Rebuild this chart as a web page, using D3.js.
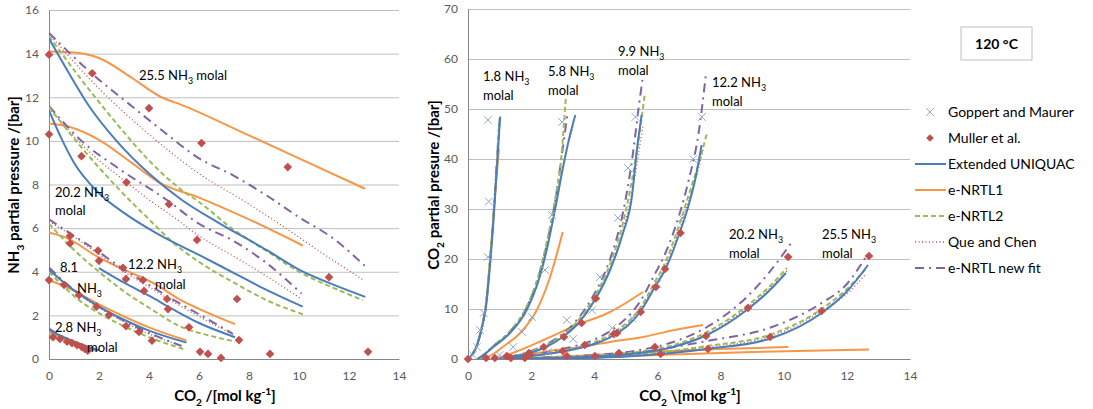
<!DOCTYPE html>
<html>
<head>
<meta charset="utf-8">
<script src="https://cdnjs.cloudflare.com/ajax/libs/d3/7.8.5/d3.min.js"></script>
<style>
body { margin: 0; background: #fff; }
svg text { font-family: Lato, "Open Sans", sans-serif; fill: #000; }
.tick text { fill: #595959; }
</style>
</head>
<body>
<svg id="chart" width="1093" height="409"></svg>
<script>
// ---------- data: left panel, NH3 partial pressure [bar] vs CO2 [mol/kg] ----------
var xTicks = [0, 2, 4, 6, 8, 10, 12, 14];
var leftYTicks = [0, 2, 4, 6, 8, 10, 12, 14, 16];
var rightYTicks = [0, 10, 20, 30, 40, 50, 60, 70];

// groups in each array: 25.5, 20.2, 12.2, 8.1, 2.8 molal
var leftUniquac = [
    [[0,14.7],[0.8,13.1],[1.6,11.6],[2.7,10.0],[4,8.5],[5.3,7.3],[6.7,6.3],[8.7,5.0],[10,4.1],[11.4,3.4],[12.65,2.85]],
    [[0,11.4],[0.5,10.1],[1,9.0],[2,7.6],[3,6.7],[4.4,5.7],[6,4.77],[7.4,3.94],[8.7,3.17],[10.15,2.4]],
    [[2,4.17],[3,3.5],[4,2.9],[5,2.25],[6,1.65],[7.44,1.0]],
    [[0,4.1],[0.6,3.5],[1.2,3.0],[2,2.4],[3,1.8],[4,1.3],[5.5,0.75]],
    [[0,1.35],[0.4,1.1],[0.8,0.9],[1.2,0.7],[1.7,0.5],[2.0,0.4]]
];
var leftNrtl1 = [
    [[0,14.1],[1,14.05],[2,13.8],[3.3,12.9],[4.5,12.0],[5.3,11.65],[8,10.25],[10,9.2],[12.65,7.8]],
    [[0,10.8],[0.8,10.65],[2,10.05],[3.3,9.0],[4.4,8.1],[6,7.4],[8,6.4],[10.15,5.2]],
    [[0,5.8],[0.7,5.55],[2,4.65],[3.1,4.05],[4.3,3.4],[5.2,2.75],[6,2.3],[7.44,1.6]],
    [[0,3.6],[0.6,3.35],[1.2,3.0],[2,2.5],[3,1.95],[4,1.45],[5.5,0.85]],
    [[0,1.2],[0.5,1.0],[1,0.8],[1.5,0.6],[1.9,0.45]]
];
var leftNrtl2 = [
    [[0,14.8],[1.3,12.8],[2.7,10.8],[4,9.1],[5.3,7.75],[6.0,7.2],[7.3,6.0],[8.7,4.95],[10,4.0],[11.4,3.25],[12.55,2.7]],
    [[0,11.55],[1.3,9.7],[2.7,7.9],[4,6.4],[5,5.3],[6,4.45],[7.4,3.5],[8.7,2.7],[10.15,2.05]],
    [[0,6.2],[1,5.0],[2,4.0],[3,3.1],[4,2.35],[5.24,1.5],[6.5,1.05],[7.44,0.8]],
    [[0,4.0],[0.6,3.3],[1.2,2.7],[2,2.1],[3,1.5],[4,1.0],[5.4,0.45]],
    [[0,1.3],[0.5,1.0],[1,0.72],[1.5,0.5],[1.9,0.38]]
];
var leftQue = [
    [[0,14.9],[2,12.4],[4,10.3],[6,8.5],[8,7.1],[9.4,6.05],[11,4.8],[12.6,3.6]],
    [[0,11.5],[1,10.2],[2,9.1],[3,8.2],[4,7.3],[5,6.5],[6,5.65],[7.4,4.7],[8.7,3.8],[10.1,2.75]],
    [[0,6.3],[1,5.6],[2,4.8],[3,4.0],[4,3.3],[5,2.6],[6,1.95],[7.4,1.1]],
    [[0,4.15],[0.6,3.5],[1.2,2.95],[2,2.35],[3,1.7],[4,1.15],[5.3,0.6]],
    [[0,1.35],[0.5,1.0],[1,0.75],[1.5,0.52],[1.9,0.38]]
];
var leftNewFit = [
    [[0,14.95],[1.7,13.1],[3.3,11.6],[4.5,10.5],[6,9.2],[7.4,8.4],[8.7,7.5],[10,6.5],[11.4,5.5],[12.7,4.2]],
    [[0,11.6],[1.3,10.0],[2.7,8.8],[4.7,7.3],[6,6.2],[7.4,5.4],[8.7,4.4],[10.1,3.0]],
    [[0,6.4],[0.8,5.8],[2,4.9],[3,4.1],[4,3.4],[5,2.7],[6,2.05],[7.36,1.15]],
    [[0,4.2],[0.6,3.55],[1.2,3.0],[2,2.4],[3,1.75],[4,1.2],[5.3,0.6]],
    [[0,1.4],[0.5,1.05],[1,0.78],[1.5,0.55],[1.9,0.4]]
];
var leftMuller = [
    [0,13.95],[1.73,13.1],[4.0,11.5],[6.1,9.9],[9.55,8.8],[11.2,3.75],[12.76,0.33],
    [0,10.3],[1.3,9.3],[3.1,8.1],[4.8,7.1],[5.92,5.46],[7.52,2.75],[8.84,0.23],
    [0.84,5.64],[0.84,5.3],[1.96,4.97],[2.0,4.5],[2.96,4.18],[3.08,3.67],[3.76,3.62],[3.8,3.12],
    [4.72,2.75],[4.76,2.29],[5.6,1.45],[7.6,0.87],[6.88,0.05],
    [0,3.62],[0.6,3.4],[1.2,2.93],[1.9,2.4],[2.4,2.02],[3.08,1.51],[3.6,1.24],[4.12,0.84],[6.04,0.33],[6.36,0.23],
    [0.16,1.0],[0.44,0.92],[0.72,0.8],[0.92,0.73],[1.12,0.64],[1.32,0.54],[1.44,0.46],[1.55,0.38]
];

// ---------- data: right panel, CO2 partial pressure [bar] ----------
// groups: 1.8, 5.8, 9.9, 12.2, 20.2, 25.5 molal
var rightUniquac = [
    [[0,0],[0.15,1.0],[0.3,3],[0.45,6.5],[0.57,10.4],[0.7,19],[0.8,27],[0.9,37],[1.02,48.5]],
    [[0.3,0],[0.5,0.8],[0.8,2.4],[1.33,5.2],[1.86,9.8],[2.2,15],[2.5,22],[2.76,30],[3.0,38],[3.2,44],[3.4,48.8]],
    [[1.3,0.3],[2,1.3],[2.5,2.5],[3,4.4],[3.5,7.2],[4,11.6],[4.5,17.8],[4.9,25],[5.19,32.4],[5.35,41.8],[5.5,48.8]],
    [[1,0.1],[2,0.6],[3,1.5],[4,3.0],[4.69,5.0],[5.45,9.4],[5.92,14.4],[6.24,17.8],[6.7,25.2],[7.0,31],[7.2,36],[7.4,42.8]],
    [[1,0],[2,0.1],[4,0.5],[5.45,1.2],[6.5,2.4],[7.57,4.8],[8.83,9.8],[9.5,13.4],[10.07,17.2]],
    [[1,0],[3,0.1],[5,0.5],[7.57,2.0],[9.63,4.2],[11.2,9.2],[12,13.5],[12.67,18.8]]
];
var rightNrtl1 = [
    [[0,0],[0.15,1.0],[0.3,3],[0.45,6.8],[0.57,11],[0.7,20],[0.8,28],[0.9,36],[0.98,42]],
    [[0.4,0],[0.8,1],[1.1,2.4],[1.65,5.2],[2.18,9.8],[2.6,16.4],[3.0,25.4]],
    [[1,0.3],[1.5,1.4],[2.4,3.8],[3.45,6.8],[4.5,9.4],[5.0,11.2],[5.54,13.4]],
    [[1.5,0.5],[2.5,1.5],[3.45,2.3],[4.5,3.4],[5.54,4.4],[6.7,6.0],[7.44,6.8]],
    [[2,0.2],[4,0.8],[6,1.5],[8,2.0],[10.15,2.4]],
    [[3,0.1],[6,0.8],[9,1.4],[12.7,1.9]]
];
var rightNrtl2 = [
    [[0,0],[0.15,1.1],[0.3,3.2],[0.45,6.8],[0.57,11],[0.7,20],[0.8,28],[0.9,38],[1.0,48.5]],
    [[0.3,0],[0.5,0.9],[0.8,2.6],[1.33,5.6],[1.86,10.5],[2.2,16],[2.5,23.5],[2.76,32],[2.95,40],[3.1,52.4]],
    [[1.3,0.35],[2,1.5],[2.5,2.8],[3,4.8],[3.5,7.8],[4,12.4],[4.5,19],[4.9,27],[5.2,36],[5.45,46],[5.6,53]],
    [[1,0.15],[2,0.7],[3,1.7],[4,3.4],[4.69,5.6],[5.45,10.2],[5.92,15.4],[6.24,19.2],[6.7,27],[7.0,33],[7.3,39],[7.57,45.2]],
    [[1,0],[2,0.15],[4,0.6],[5.45,1.5],[6.5,2.8],[7.57,5.4],[8.83,10.6],[9.5,14.2],[10.1,18.2]],
    [[1,0],[3,0.15],[5,0.7],[7.57,2.6],[9.63,5.0],[11.2,10],[12,14],[12.6,18]]
];
var rightQue = [
    [[0,0],[0.15,1.0],[0.3,3],[0.45,6.6],[0.57,10.6],[0.7,19.5],[0.8,27.5],[0.9,37.5],[1.0,48]],
    [[0.3,0],[0.5,0.8],[0.8,2.4],[1.33,5.3],[1.86,10],[2.2,15.3],[2.5,22.4],[2.76,30.5],[3.0,38.5],[3.2,43.5],[3.35,47]],
    [[1.3,0.3],[2,1.35],[2.5,2.6],[3,4.5],[3.5,7.4],[4,11.9],[4.5,18.2],[4.9,25.6],[5.2,33.5],[5.4,41],[5.55,47]],
    [[1,0.1],[2,0.65],[3,1.6],[4,3.2],[4.69,5.3],[5.45,9.8],[5.92,15],[6.24,18.5],[6.7,26],[7.0,32],[7.3,38],[7.45,42]],
    [[1,0],[2,0.1],[4,0.5],[5.45,1.3],[6.5,2.6],[7.57,5.0],[8.83,10.2],[9.5,13.8],[10.1,17.6]],
    [[1,0],[3,0.1],[5,0.6],[7.57,2.4],[9.63,4.6],[11.2,9.6],[12,13],[12.6,17]]
];
var rightNewFit = [
    [[0,0],[0.15,1.1],[0.3,3.1],[0.45,6.7],[0.57,10.8],[0.7,19.8],[0.8,28],[0.9,38],[1.0,48]],
    [[0.3,0],[0.5,0.9],[0.8,2.6],[1.33,5.5],[1.86,10.3],[2.2,15.8],[2.5,23],[2.76,31.5],[3.0,42],[3.15,49]],
    [[1.3,0.4],[2,1.6],[2.5,3],[3,5],[3.5,8.2],[4,13],[4.5,20],[4.9,29],[5.2,40],[5.4,50],[5.55,57]],
    [[1,0.2],[2,0.8],[3,2],[4,3.9],[4.69,6.4],[5.45,11.5],[5.92,17],[6.24,21],[6.7,29],[7.0,36],[7.3,45],[7.54,57.2]],
    [[1,0],[2,0.2],[4,0.8],[5.45,1.8],[6.5,3.4],[7.57,6.4],[8.83,12.4],[9.5,17],[10.3,23.8]],
    [[1,0],[3,0.2],[5,1.0],[7.57,3.6],[9.63,6.4],[11.2,11.2],[12,15],[12.6,20.4]]
];
var rightGoppert = [
    [0.15,0.8],[0.28,2.4],[0.38,5.8],[0.5,9.2],[0.63,20.4],[0.66,31.5],[0.63,47.8],
    [1.0,0.8],[1.43,2.4],[1.71,5.4],[2.03,8.4],[2.44,17.8],[2.66,28.8],[2.98,47.4],
    [2.54,1.4],[3.13,7.8],[3.33,4.0],[3.93,9.8],[4.18,16.4],[4.75,28.2],[5.07,38.2],[5.3,48.4],
    [4.57,6.2],[5.2,8.2],[6.0,15],[6.78,28.2],[7.13,40],[7.41,48.4]
];
var rightMuller = [
    [0,0],[0.57,0.2],[0.85,0.2],[1.23,0.6],[1.36,0.2],[1.8,0.2],[1.93,1.2],[1.96,0.8],[2.4,2.4],
    [3.0,1.6],[3.13,0.6],[3.04,4.4],[3.6,7.2],[4.05,12.1],[3.7,2.8],[4.02,0.6],[4.72,5.2],[4.62,5.0],
    [4.78,1.2],[5.47,9.4],[5.95,14.4],[6.24,18],[6.73,25.2],[5.92,2.4],[6.1,1.0],[7.54,4.6],[7.6,2.0],
    [8.87,10.2],[10.14,20.4],[9.57,4.4],[11.2,9.6],[12.7,20.6]
];

var legendNames = ["Goppert and Maurer", "Muller et al.", "Extended UNIQUAC", "e-NRTL1", "e-NRTL2", "Que and Chen", "e-NRTL new fit"];

// ---------- styles ----------
var styles = {
    uniquac: { color: "#4a7ebb", width: 2, dash: null },
    nrtl1:   { color: "#f79646", width: 2, dash: null },
    nrtl2:   { color: "#9bbb59", width: 2, dash: "5,3" },
    que:     { color: "#c0504d", width: 1.3, dash: "1,2.5" },
    newfit:  { color: "#8064a2", width: 2, dash: "9,5,2,5" }
};
var diamondColor = "#c0504d";
var crossColor = "#8ea9d0";
var labelSize = 13;

var svg = d3.select("#chart");

// text with sub/superscripts: parts = [[text, "sub"|"sup"|null], ...]
function richText(g, x, y, parts, size, anchor, weight) {
    var t = g.append("text")
        .attr("x", x).attr("y", y)
        .attr("font-size", size)
        .attr("text-anchor", anchor || "start")
        .attr("font-weight", weight || "normal");
    var shift = 0;
    parts.forEach(function(p) {
        var ts = t.append("tspan").text(p[0]);
        var target = 0;
        if (p[1] == "sub") target = size * 0.3;
        if (p[1] == "sup") target = -size * 0.4;
        if (target != shift) { ts.attr("dy", target - shift); shift = target; }
        if (p[1]) ts.attr("font-size", size * 0.68);
    });
    return t;
}

function drawPanel(cfg) {
    var x = d3.scaleLinear().domain([0, 14]).range(cfg.xRange);
    var y = d3.scaleLinear().domain(cfg.yDomain).range(cfg.yRange);
    var g = svg.append("g");

    // gridlines
    g.append("g")
        .attr("transform", "translate(" + cfg.xRange[0] + ",0)")
        .call(d3.axisLeft(y).tickValues(cfg.yTicks).tickSize(-(cfg.xRange[1] - cfg.xRange[0])).tickFormat(""))
        .call(function(a) { a.select(".domain").remove(); })
        .selectAll("line").attr("stroke", "#c0c0c0");

    // axes
    var ya = g.append("g")
        .attr("transform", "translate(" + cfg.xRange[0] + ",0)")
        .call(d3.axisLeft(y).tickValues(cfg.yTicks).tickSize(0).tickPadding(10));
    var xa = g.append("g")
        .attr("transform", "translate(0," + cfg.yRange[0] + ")")
        .call(d3.axisBottom(x).tickValues(xTicks).tickSize(0).tickPadding(12));
    [ya, xa].forEach(function(a) {
        a.select(".domain").attr("stroke", "#868686");
        a.selectAll("text").attr("font-size", 12).style("font-family", "Lato, sans-serif");
    });

    // clip
    var clipId = cfg.id + "clip";
    svg.append("clipPath").attr("id", clipId).append("rect")
        .attr("x", cfg.xRange[0]).attr("y", cfg.yRange[1] - 2)
        .attr("width", cfg.xRange[1] - cfg.xRange[0] + 2)
        .attr("height", cfg.yRange[0] - cfg.yRange[1] + 2);
    var plot = g.append("g").attr("clip-path", "url(#" + clipId + ")");

    var line = d3.line()
        .x(function(d) { return x(d[0]); })
        .y(function(d) { return y(d[1]); })
        .curve(d3.curveMonotoneX);

    // model curves
    cfg.series.forEach(function(s) {
        var st = styles[s.style];
        plot.selectAll(null)
            .data(s.data)
            .enter().append("path")
            .attr("d", line)
            .attr("fill", "none")
            .attr("stroke", st.color)
            .attr("stroke-width", st.width)
            .attr("stroke-dasharray", st.dash);
    });

    // goppert crosses
    if (cfg.crosses) {
        plot.selectAll(null).data(cfg.crosses).enter().append("path")
            .attr("d", d3.symbol(d3.symbolX, 40))
            .attr("transform", function(d) { return "translate(" + x(d[0]) + "," + y(d[1]) + ")"; })
            .attr("fill", "none").attr("stroke", crossColor).attr("stroke-width", 1);
    }
    // muller diamonds
    g.selectAll(null).data(cfg.diamonds).enter().append("path")
        .attr("d", d3.symbol(d3.symbolSquare, 38))
        .attr("transform", function(d) { return "translate(" + x(d[0]) + "," + y(d[1]) + ") rotate(45)"; })
        .attr("fill", diamondColor);

    return g;
}

var left = drawPanel({
    id: "left", xRange: [49, 399], yDomain: [0, 16], yRange: [359, 10], yTicks: leftYTicks,
    series: [
        { style: "nrtl1", data: leftNrtl1 },
        { style: "que", data: leftQue },
        { style: "newfit", data: leftNewFit },
        { style: "nrtl2", data: leftNrtl2 },
        { style: "uniquac", data: leftUniquac }
    ],
    diamonds: leftMuller
});

var right = drawPanel({
    id: "right", xRange: [468, 910], yDomain: [0, 70], yRange: [359, 9], yTicks: rightYTicks,
    series: [
        { style: "nrtl1", data: rightNrtl1 },
        { style: "que", data: rightQue },
        { style: "newfit", data: rightNewFit },
        { style: "nrtl2", data: rightNrtl2 },
        { style: "uniquac", data: rightUniquac }
    ],
    crosses: rightGoppert,
    diamonds: rightMuller
});

// group labels, left
var NH3 = function(pre, post) { return [[pre + " NH", null], ["3", "sub"], [post || "", null]]; };
richText(svg, 139, 80, NH3("25.5", " molal"), labelSize);
richText(svg, 55, 197, NH3("20.2"), labelSize);
richText(svg, 55, 215, [["molal", null]], labelSize);
richText(svg, 128, 269, NH3("12.2"), labelSize);
richText(svg, 155, 289, [["molal", null]], labelSize);
richText(svg, 60, 272, [["8.1", null]], labelSize);
richText(svg, 77, 293, [["NH", null], ["3", "sub"]], labelSize);
richText(svg, 55, 332, NH3("2.8"), labelSize);
richText(svg, 87, 352, [["molal", null]], labelSize);

// group labels, right
[[483, 81, "1.8"], [548, 76, "5.8"], [618, 56, "9.9"], [712, 87, "12.2"], [729, 239, "20.2"], [822, 239, "25.5"]]
    .forEach(function(l) {
        richText(svg, l[0], l[1], NH3(l[2]), labelSize);
        richText(svg, l[0], l[1] + 19, [["molal", null]], labelSize);
    });

// axis titles
var t1 = svg.append("g").attr("transform", "translate(19,185) rotate(-90)");
richText(t1, 0, 0, [["NH", null], ["3", "sub"], [" partial pressure /[bar]", null]], 15, "middle", "bold");
var t2 = svg.append("g").attr("transform", "translate(439,185) rotate(-90)");
richText(t2, 0, 0, [["CO", null], ["2", "sub"], [" partial presure /[bar]", null]], 15, "middle", "bold");
richText(svg, 225, 401, [["CO", null], ["2", "sub"], [" /[mol kg", null], ["-1", "sup"], ["]", null]], 15, "middle", "bold");
richText(svg, 690, 401, [["CO", null], ["2", "sub"], [" \\[mol kg", null], ["-1", "sup"], ["]", null]], 15, "middle", "bold");

// temperature box
svg.append("rect").attr("x", 961).attr("y", 27).attr("width", 71).attr("height", 33)
    .attr("fill", "#fff").attr("stroke", "#bfbfbf");
svg.append("text").attr("x", 996.5).attr("y", 49).attr("text-anchor", "middle")
    .attr("font-size", 14).attr("font-weight", "bold").text("120 °C");

// legend
var legend = svg.append("g");
var legendKeys = ["cross", "diamond", "uniquac", "nrtl1", "nrtl2", "que", "newfit"];
legendNames.forEach(function(name, i) {
    var ly = 112 + i * 26;
    var k = legendKeys[i];
    if (k == "cross") {
        legend.append("path").attr("d", d3.symbol(d3.symbolX, 40))
            .attr("transform", "translate(930," + ly + ")")
            .attr("fill", "none").attr("stroke", crossColor);
    } else if (k == "diamond") {
        legend.append("path").attr("d", d3.symbol(d3.symbolSquare, 30))
            .attr("transform", "translate(930," + ly + ") rotate(45)")
            .attr("fill", diamondColor);
    } else {
        var st = styles[k];
        legend.append("line").attr("x1", 915).attr("x2", 946).attr("y1", ly).attr("y2", ly)
            .attr("stroke", st.color).attr("stroke-width", st.width).attr("stroke-dasharray", st.dash);
    }
    legend.append("text").attr("x", 948).attr("y", ly + 5).attr("font-size", 14).text(name);
});
</script>
</body>
</html>
